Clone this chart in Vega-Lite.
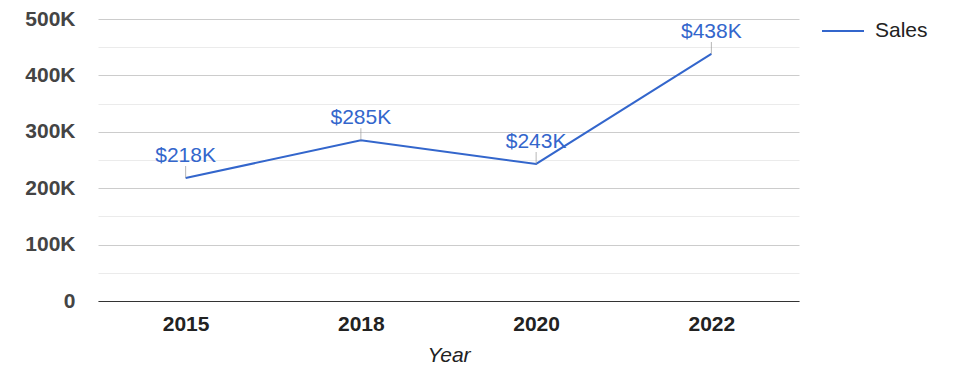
{
  "$schema": "https://vega.github.io/schema/vega-lite/v6.json",
  "width": 701,
  "height": 282,
  "autosize": {"type": "none"},
  "padding": {"left": 98, "top": 19, "right": 176, "bottom": 77},
  "background": "white",
  "config": {
    "view": {"stroke": null},
    "font": "Liberation Sans"
  },
  "data": {
    "values": [
      {"Year": "2015", "Sales": 218000},
      {"Year": "2018", "Sales": 285000},
      {"Year": "2020", "Sales": 243000},
      {"Year": "2022", "Sales": 438000}
    ]
  },
  "transform": [
    {"calculate": "'$' + (datum.Sales / 1000) + 'K'", "as": "Label"}
  ],
  "encoding": {
    "x": {
      "field": "Year",
      "type": "ordinal",
      "scale": {"type": "point", "padding": 0.5},
      "axis": {
        "title": "Year",
        "titleFontStyle": "italic",
        "titleFontWeight": "normal",
        "titleFontSize": 21,
        "titleColor": "#222",
        "titlePadding": 10,
        "labelAngle": 0,
        "labelFontSize": 21,
        "labelFontWeight": "bold",
        "labelColor": "#222",
        "labelPadding": 12,
        "ticks": false,
        "domainColor": "#333",
        "domainWidth": 1,
        "grid": false
      }
    },
    "y": {
      "field": "Sales",
      "type": "quantitative",
      "scale": {"domain": [0, 500000], "nice": false},
      "axis": {
        "title": null,
        "values": [0, 50000, 100000, 150000, 200000, 250000, 300000, 350000, 400000, 450000, 500000],
        "labelExpr": "datum.value % 100000 === 0 ? (datum.value === 0 ? '0' : (datum.value / 1000) + 'K') : ''",
        "labelFontSize": 21,
        "labelFontWeight": "bold",
        "labelColor": "#444",
        "labelPadding": 23,
        "ticks": false,
        "domain": false,
        "gridColor": {"condition": {"test": "datum.value % 100000 === 0", "value": "#cccccc"}, "value": "#ebebeb"},
        "gridWidth": 1
      }
    }
  },
  "layer": [
    {
      "mark": {"type": "line", "strokeWidth": 2},
      "encoding": {
        "color": {
          "datum": "Sales",
          "type": "nominal",
          "scale": {"range": ["#3366cc"]},
          "legend": {
            "title": null,
            "orient": "none",
            "legendX": 723,
            "legendY": -10,
            "symbolType": "stroke",
            "symbolSize": 1764,
            "symbolStrokeWidth": 2,
            "labelFontSize": 21,
            "labelColor": "#222",
            "labelOffset": 10
          }
        }
      }
    },
    {
      "mark": {"type": "tick", "orient": "vertical", "size": 12, "thickness": 1, "yOffset": -6, "color": "#999999"},
      "encoding": {}
    },
    {
      "mark": {"type": "text", "fontSize": 21, "color": "#3366cc", "dy": -22, "baseline": "middle"},
      "encoding": {"text": {"field": "Label"}}
    }
  ]
}
